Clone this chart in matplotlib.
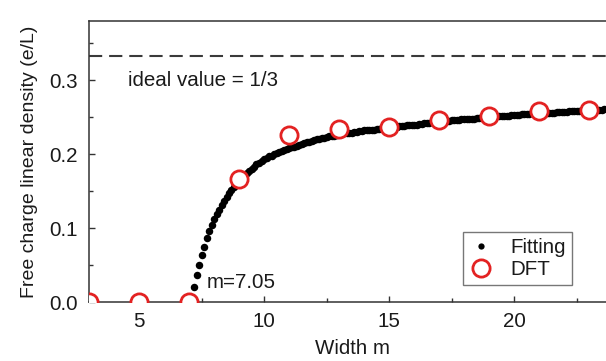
import numpy as np
import matplotlib
matplotlib.use('Agg')
import matplotlib.pyplot as plt
from matplotlib.ticker import MultipleLocator

plt.rcParams['font.family'] = ['Liberation Sans', 'DejaVu Sans']
plt.rcParams['lines.scale_dashes'] = False

# DFT results
dft_m = [3, 5, 7, 9, 11, 13, 15, 17, 19, 21, 23]
dft_rho = [0.0, 0.0, 0.0, 0.166, 0.226, 0.234, 0.237, 0.246, 0.252, 0.258, 0.260]

# fitted curve, sampled every 0.1 from m=7.2
fit_m = np.round(np.arange(7.2, 23.85, 0.1), 1)
fit_rho = [
    0.020, 0.036, 0.050, 0.063, 0.075, 0.086, 0.096, 0.104, 0.112, 0.119,
    0.125, 0.131, 0.137, 0.142, 0.147, 0.152, 0.156, 0.160, 0.164,
    0.168, 0.171, 0.174, 0.177, 0.180, 0.183, 0.186, 0.188, 0.191, 0.193,
    0.195, 0.197, 0.198, 0.200, 0.201, 0.203, 0.204, 0.205, 0.207, 0.208,
    0.209, 0.210, 0.211, 0.212, 0.214, 0.215, 0.216, 0.217, 0.218, 0.219,
    0.220, 0.221, 0.222, 0.222, 0.223, 0.224, 0.225, 0.225, 0.226, 0.227,
    0.227, 0.228, 0.228, 0.229, 0.229, 0.230, 0.230, 0.231, 0.231, 0.232,
    0.232, 0.233, 0.233, 0.233, 0.234, 0.234, 0.235, 0.235, 0.236, 0.236,
    0.236, 0.237, 0.237, 0.238, 0.238, 0.238, 0.239, 0.239, 0.240, 0.240,
    0.240, 0.241, 0.241, 0.242, 0.242, 0.242, 0.243, 0.243, 0.244, 0.244,
    0.244, 0.245, 0.245, 0.245, 0.246, 0.246, 0.246, 0.246, 0.247, 0.247,
    0.247, 0.248, 0.248, 0.248, 0.249, 0.249, 0.249, 0.249, 0.250, 0.250,
    0.250, 0.251, 0.251, 0.251, 0.252, 0.252, 0.252, 0.252, 0.253, 0.253,
    0.253, 0.253, 0.254, 0.254, 0.254, 0.254, 0.255, 0.255, 0.255, 0.255,
    0.255, 0.256, 0.256, 0.256, 0.256, 0.256, 0.257, 0.257, 0.257, 0.257,
    0.257, 0.258, 0.258, 0.258, 0.258, 0.258, 0.259, 0.259, 0.259, 0.259,
    0.259, 0.260, 0.260, 0.260, 0.260, 0.261, 0.261, 0.261,
]

ideal = 1.0 / 3
m_crit = 7.05

txt = '#1a1a1a'
red = '#e32222'

fig = plt.figure(figsize=(6.06, 3.61), dpi=100)
ax = fig.add_axes([89 / 606, 1 - 302 / 361, 527 / 606, 281 / 361])

ax.axhline(ideal, color='#3a3a3a', lw=1.5, dashes=(9.5, 5.0), zorder=1)
ax.plot(fit_m, fit_rho, 'o', ms=5.4, color='black', mew=0, label='Fitting', zorder=2)
ax.plot(dft_m, dft_rho, 'o', ms=12.4, mfc='white', mec=red, mew=2.0, label='DFT', zorder=3)

ax.text(4.55, 0.300, 'ideal value = 1/3', fontsize=14.8, color=txt, va='center')
ax.text(7.72, 0.026, 'm=%.2f' % m_crit, fontsize=14.8, color=txt, va='center')

ax.set_xlim(3, 3 + 527 / 25)
ax.set_ylim(0, 0.38)
ax.xaxis.set_major_locator(MultipleLocator(5))
ax.xaxis.set_minor_locator(MultipleLocator(2.5))
ax.yaxis.set_major_locator(MultipleLocator(0.1))
ax.yaxis.set_minor_locator(MultipleLocator(0.05))
ax.yaxis.set_major_formatter(plt.FormatStrFormatter('%.1f'))
ax.tick_params(which='both', direction='in', top=False, right=False,
               color='#333333', width=1.0, labelsize=14.8, labelcolor=txt)
ax.tick_params(which='major', length=4.5)
ax.tick_params(which='minor', length=3)
ax.tick_params(axis='x', pad=7)
ax.tick_params(axis='y', pad=8)
for s in ['left', 'bottom', 'top']:
    ax.spines[s].set_color('#333333')
    ax.spines[s].set_linewidth(1.1)
ax.spines['right'].set_visible(False)

ax.set_xlabel('Width m', fontsize=14.8, color=txt, labelpad=6)
ax.set_ylabel('Free charge linear density (e/L)', fontsize=14, color=txt, labelpad=8)

leg = ax.legend(loc='lower right', bbox_to_anchor=(482.7 / 527, 17 / 281),
                borderaxespad=0, fontsize=14.8, fancybox=False, framealpha=1,
                edgecolor='#777777', handlelength=1.2, handletextpad=0.8,
                borderpad=0.3, labelspacing=0.15, markerscale=1.0)
leg.get_frame().set_linewidth(1.0)
leg.legend_handles[0].set_markersize(4.5)
for t in leg.get_texts():
    t.set_color(txt)

fig.savefig('out.png', dpi=100)
